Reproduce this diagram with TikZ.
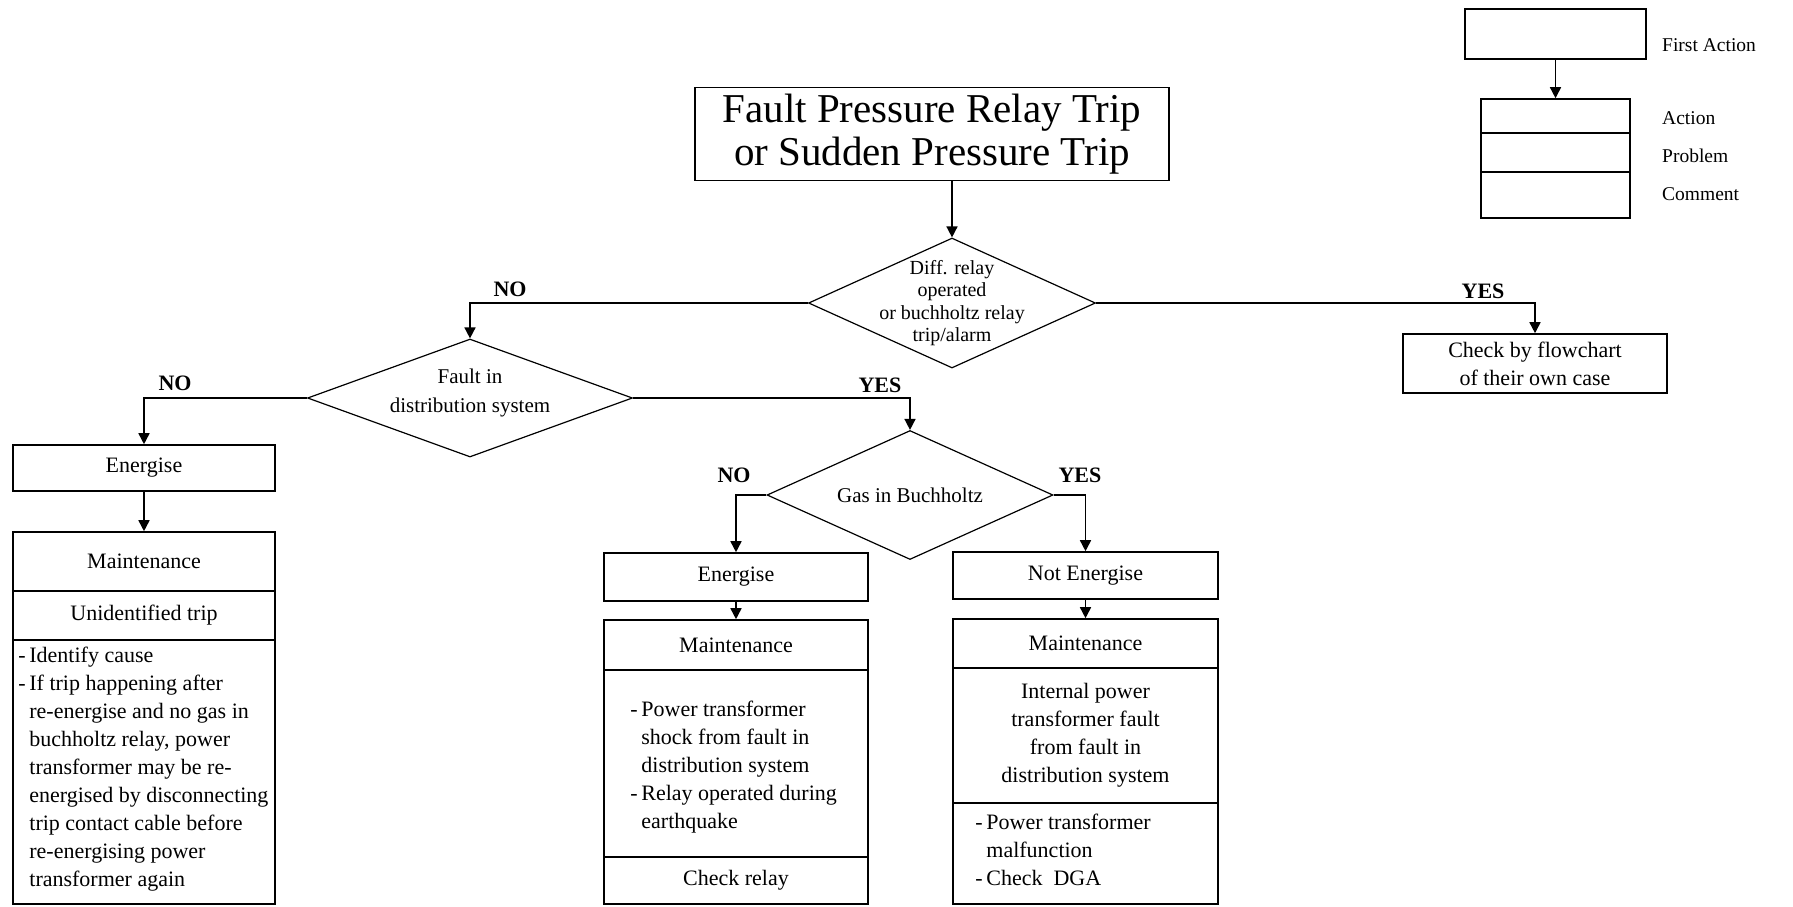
\documentclass[tikz,border=0pt]{standalone}
\usepackage{fontspec}
\setmainfont{Liberation Serif}
\usetikzlibrary{shapes.geometric,arrows.meta}
\newcommand\bodyf{\fontsize{22}{28}\selectfont}
\newcommand\diatf{\fontsize{21}{29}\selectfont}
\newcommand\titlef{\fontsize{41}{43}\selectfont}
\newcommand\labf{\fontsize{22}{24}\selectfont\bfseries}
\newcommand\diaf{\fontsize{20}{22.5}\selectfont}
\newcommand\legf{\fontsize{19.5}{22}\selectfont}
\tikzset{
  box/.style={draw, line width=1.6pt, inner sep=0pt, font=\bodyf, align=center},
  dia/.style={draw, diamond, line width=1.2pt, inner sep=0pt},
  txt/.style={inner sep=0pt, font=\bodyf},
  lab/.style={inner sep=0pt, font=\labf},
  leg/.style={inner sep=0pt, font=\legf, anchor=west},
  arr/.style={line width=1.6pt, -{Triangle[width=11pt,length=11pt]}},
}
\begin{document}
\begin{tikzpicture}[x=1pt,y=-1pt]
\useasboundingbox (0,0) rectangle (1793,906);
% title
\node[box, font=\titlef, minimum width=474pt, minimum height=93pt] (title) at (932,134) {Fault Pressure Relay Trip\\or Sudden Pressure Trip};
% decision 1
\node[dia, minimum width=287pt, minimum height=130pt] (d1) at (952,303) {};
\node[txt, font=\diaf, align=center] (d1t) at (d1.center) {Diff. relay\\operated\\or buchholtz relay\\trip/alarm};
\draw[arr] (title.south -| d1.north) -- (d1.north);
% check box
\node[box, minimum width=264pt, minimum height=59pt] (check) at (1535,363.5) {Check by flowchart\\of their own case};
\draw[arr] (d1.east) -| (check.north);
\node[lab] (y1) at (1483,291) {YES};
% decision 2
\node[dia, minimum width=325pt, minimum height=118pt] (d2) at (470,398) {};
\node[txt, font=\diatf, align=center] (d2t) at (470,393) {Fault in\\distribution system};
\draw[arr] (d1.west) -| (d2.north);
\node[lab] (n1) at (510,289) {NO};
% left branch
\node[box, minimum width=262pt, minimum height=46pt] (e1) at (144,468) {Energise};
\draw[arr] (d2.west) -| (e1.north);
\node[lab] (n2) at (175,383) {NO};
\node[box, minimum width=262pt, minimum height=59pt] (m1a) at (144,561.5) {Maintenance};
\node[box, minimum width=262pt, minimum height=49pt] (m1b) at (144,615.5) {Unidentified trip};
\node[box, minimum width=262pt, minimum height=264pt] (m1c) at (144,772) {};
\node[txt, anchor=west, align=left] (m1t) at ([xshift=17pt,yshift=3pt]m1c.west) {\llap{-\,}Identify cause\\\llap{-\,}If trip happening after\\re-energise and no gas in\\buchholtz relay, power\\transformer may be re-\\energised by disconnecting\\trip contact cable before\\re-energising power\\transformer again};
\draw[arr] (e1.south) -- (m1a.north);
% decision 3
\node[dia, minimum width=286pt, minimum height=129pt] (d3) at (910,495) {};
\node[txt, font=\diatf] (d3t) at (d3.center) {Gas in Buchholtz};
\draw[arr] (d2.east) -| (d3.north);
\node[lab] (y2) at (880,385) {YES};
% middle branch
\node[box, minimum width=264pt, minimum height=48pt] (e2) at (736,577) {Energise};
\draw[arr] (d3.west) -| (e2.north);
\node[lab] (n3) at (734,475) {NO};
\node[box, minimum width=264pt, minimum height=50pt] (m2a) at (736,645) {Maintenance};
\node[box, minimum width=264pt, minimum height=187pt] (m2b) at (736,763.5) {};
\node[box, minimum width=264pt, minimum height=47pt] (m2c) at (736,880.5) {Check relay};
\node[txt, anchor=west, align=left] (m2t) at ([xshift=38pt,yshift=-4pt]m2b.west) {\llap{-\,}Power transformer\\shock from fault in\\distribution system\\\llap{-\,}Relay operated during\\earthquake};
\draw[arr] (e2.south) -- (m2a.north);
% right branch
\node[box, minimum width=265pt, minimum height=47pt] (ne) at (1085.5,575.5) {Not Energise};
\draw[arr] (d3.east) -| (ne.north);
\node[lab] (y3) at (1080,475) {YES};
\node[box, minimum width=265pt, minimum height=49pt] (m3a) at (1085.5,643.5) {Maintenance};
\node[box, minimum width=265pt, minimum height=135pt] (m3b) at (1085.5,735.5) {Internal power\\transformer fault\\from fault in\\distribution system};
\node[box, minimum width=265pt, minimum height=101pt] (m3c) at (1085.5,853.5) {};
\node[txt, anchor=west, align=left] (m3t) at ([xshift=34pt,yshift=4pt]m3c.west) {\llap{-\,}Power transformer\\malfunction\\\llap{-\,}Check~~DGA};
\draw[arr] (ne.south) -- (m3a.north);
% legend
\node[box, minimum width=181pt, minimum height=50pt] (L1) at (1555.5,34) {};
\node[box, minimum width=149pt, minimum height=34pt] (L2a) at (1555.5,116) {};
\node[box, minimum width=149pt, minimum height=39pt] (L2b) at (1555.5,152.5) {};
\node[box, minimum width=149pt, minimum height=46pt] (L2c) at (1555.5,195) {};
\draw[arr] (L1.south) -- (L2a.north);
\node[leg] (lg1) at (1662,45) {First Action};
\node[leg] (lg2) at (1662,118) {Action};
\node[leg] (lg3) at (1662,156) {Problem};
\node[leg] (lg4) at (1662,194) {Comment};
\end{tikzpicture}
\end{document}
